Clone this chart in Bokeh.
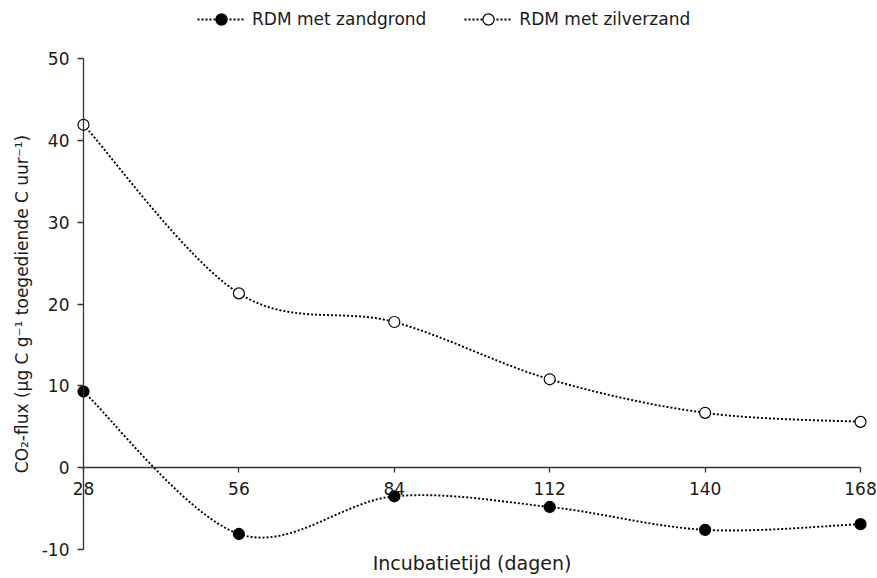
import numpy as np
from bokeh.plotting import figure
from bokeh.models import (LinearAxis, Legend, LegendItem, Range1d, FixedTicker,
                          ColumnDataSource)
from bokeh.embed import file_html
from bokeh.resources import INLINE

# ---- data ----
days = [28, 56, 84, 112, 140, 168]
zandgrond = [9.3, -8.1, -3.5, -4.8, -7.6, -6.9]
zilverzand = [41.9, 21.3, 17.8, 10.8, 6.7, 5.6]
x_ticks = [28, 56, 84, 112, 140, 168]
y_ticks = [-10, 0, 10, 20, 30, 40, 50]
labels = ["RDM met zandgrond", "RDM met zilverzand"]
x_title = "Incubatietijd (dagen)"
y_title = "CO\u2082-flux (\u00b5g C g\u207b\u00b9 toegediende C uur\u207b\u00b9)"

FONT = "DejaVu Sans"
TXT = "#1a1a1a"
AX = "#333333"

# ---- layout: the frame fills the canvas; axes sit at fixed data positions ----
W, H = 877, 578
L_PX, R_PX, T_PX, B_PX = 83, 860, 58, 549
X0, X1 = x_ticks[0], x_ticks[-1]
Y0, Y1 = y_ticks[0], y_ticks[-1]
xs = (X1 - X0) / (R_PX - L_PX)
ys = (Y1 - Y0) / (B_PX - T_PX)
x_range = Range1d(X0 - L_PX * xs, X1 + (W - R_PX) * xs)
y_range = Range1d(Y0 - (H - B_PX) * ys, Y1 + T_PX * ys)


def smooth_segments(x, y):
    """Bezier segments of a smoothed (Catmull-Rom style) curve through the points."""
    n = len(x)
    d = dict(x0=[], y0=[], x1=[], y1=[], cx0=[], cy0=[], cx1=[], cy1=[])
    for i in range(n - 1):
        a = i - 1 if i > 0 else i
        b = i + 2 if i + 2 < n else i + 1
        d["x0"].append(x[i]); d["y0"].append(y[i])
        d["x1"].append(x[i + 1]); d["y1"].append(y[i + 1])
        d["cx0"].append(x[i] + (x[i + 1] - x[a]) / 6.0)
        d["cy0"].append(y[i] + (y[i + 1] - y[a]) / 6.0)
        d["cx1"].append(x[i + 1] - (x[b] - x[i]) / 6.0)
        d["cy1"].append(y[i + 1] - (y[b] - y[i]) / 6.0)
    return ColumnDataSource(d)


p = figure(width=W, height=H, x_range=x_range, y_range=y_range,
           output_backend="svg", toolbar_location=None,
           min_border=0, min_border_left=0, min_border_right=0,
           min_border_top=0, min_border_bottom=0)
p.grid.visible = False
p.outline_line_color = None
p.background_fill_color = "white"
p.border_fill_color = "white"

# x axis crossing at y = 0
xa = p.xaxis[0]
xa.fixed_location = 0
xa.bounds = (X0, X1)
xa.ticker = FixedTicker(ticks=x_ticks)
xa.axis_line_color = AX
xa.axis_line_width = 1.3
xa.major_tick_line_color = AX
xa.major_tick_line_width = 1.3
xa.major_tick_out = 5
xa.major_tick_in = 0
xa.minor_tick_line_color = None
xa.major_label_standoff = 9
xa.major_label_text_font = FONT
xa.major_label_text_font_size = "17px"
xa.major_label_text_color = TXT

# x axis title below the bottom of the y axis
xt = LinearAxis(ticker=FixedTicker(ticks=[]), axis_label=x_title,
                axis_line_color=None, major_tick_line_color=None,
                minor_tick_line_color=None, major_tick_out=0, major_tick_in=0)
xt.fixed_location = Y0
xt.bounds = (X0, X1)
xt.axis_label_standoff = 2
xt.axis_label_text_font = FONT
xt.axis_label_text_font_size = "19px"
xt.axis_label_text_font_style = "normal"
xt.axis_label_text_color = TXT
p.add_layout(xt, "below")

ya = p.yaxis[0]
ya.fixed_location = X0
ya.bounds = (Y0, Y1)
ya.ticker = FixedTicker(ticks=y_ticks)
ya.major_label_overrides = {v: str(v) for v in y_ticks}
ya.axis_line_color = AX
ya.axis_line_width = 1.3
ya.major_tick_line_color = AX
ya.major_tick_line_width = 1.3
ya.major_tick_out = 6
ya.major_tick_in = 0
ya.minor_tick_line_color = None
ya.major_label_standoff = 8
ya.major_label_text_font = FONT
ya.major_label_text_font_size = "17px"
ya.major_label_text_color = TXT
ya.axis_label = y_title
ya.axis_label_standoff = 7
ya.axis_label_text_font = FONT
ya.axis_label_text_font_size = "17px"
ya.axis_label_text_font_style = "normal"
ya.axis_label_text_color = TXT

items = []
for yv, fill, lab in [(zandgrond, "black", labels[0]), (zilverzand, "white", labels[1])]:
    src = smooth_segments(days, yv)
    b = p.bezier(x0="x0", y0="y0", x1="x1", y1="y1", cx0="cx0", cy0="cy0",
                 cx1="cx1", cy1="cy1", source=src,
                 line_color="black", line_width=1.9, line_dash="2 2")
    s = p.scatter(days, yv, size=11, marker="circle", fill_color=fill,
                  line_color="black", line_width=1.2)
    items.append(LegendItem(label=lab, renderers=[b, s]))

leg = Legend(items=items, orientation="horizontal", location=(197, H - 33),
             glyph_width=48, glyph_height=28, label_standoff=7, spacing=38,
             padding=2, margin=0, border_line_color=None,
             background_fill_alpha=0,
             label_text_font=FONT, label_text_font_size="17px",
             label_text_color=TXT)
p.add_layout(leg, "center")

open("out.html", "w").write(file_html(p, INLINE))
